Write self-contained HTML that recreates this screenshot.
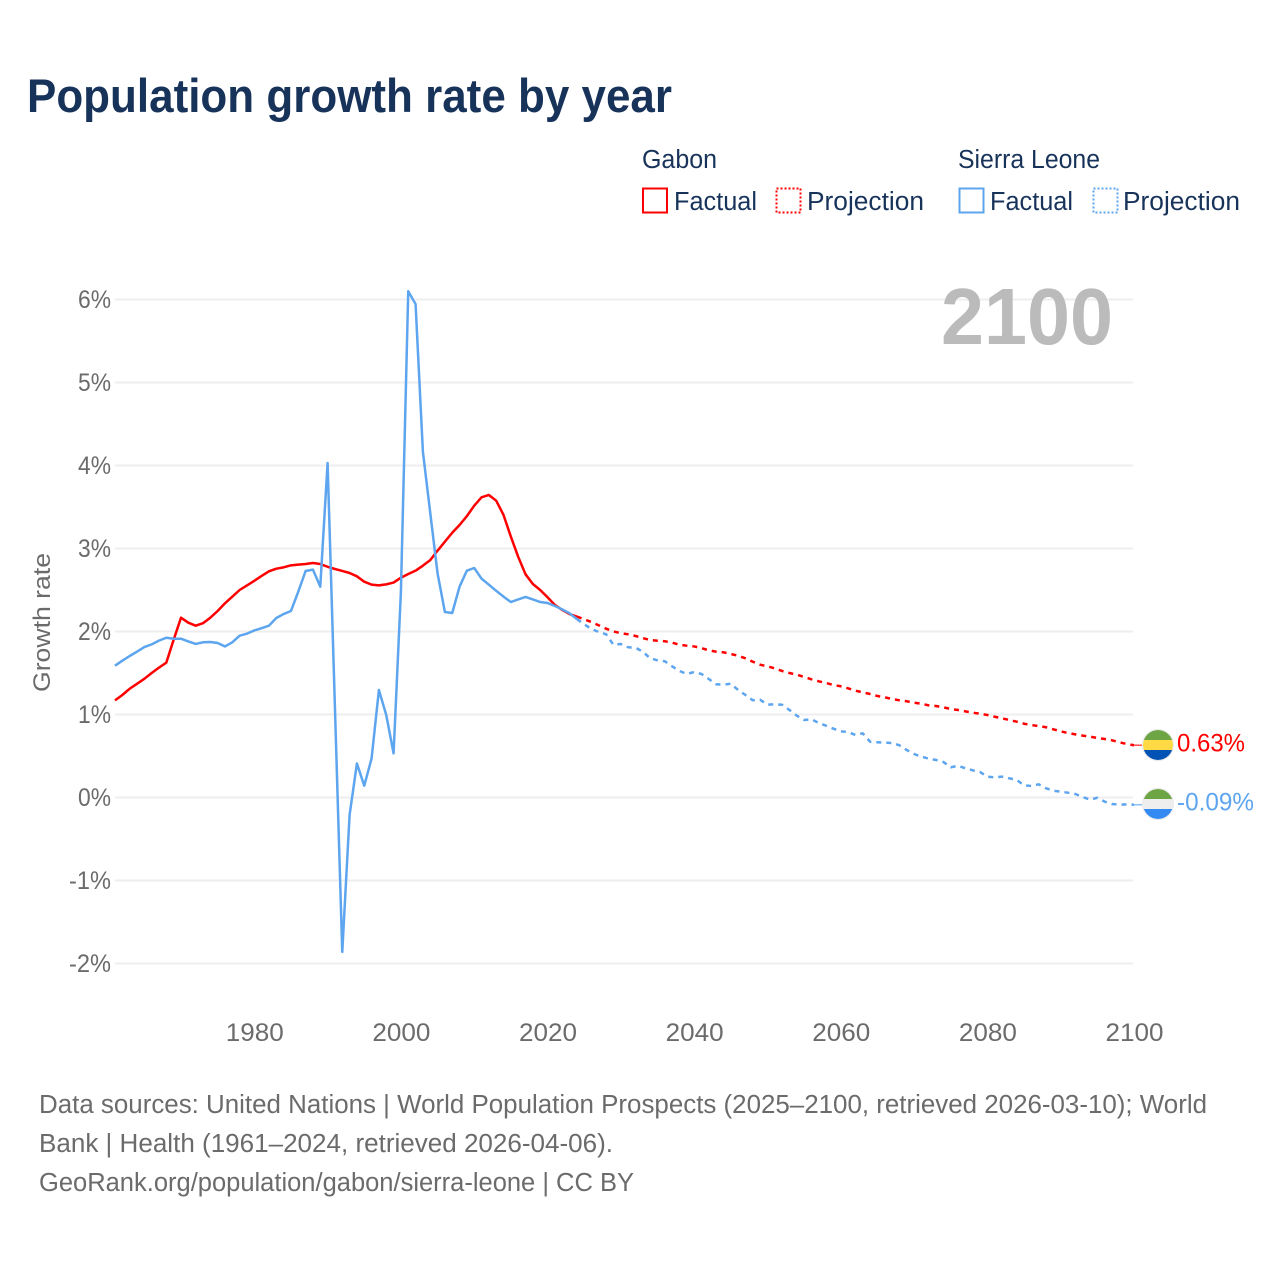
<!DOCTYPE html>
<html lang="en">
<head>
<meta charset="utf-8">
<title>Population growth rate by year</title>
<style>
html,body{margin:0;padding:0;background:#fff;width:1280px;height:1280px;overflow:hidden}
svg{display:block}
text{font-family:"Liberation Sans",sans-serif}
</style>
</head>
<body>
<svg id="chart" xmlns="http://www.w3.org/2000/svg" width="1280" height="1280" viewBox="0 0 1280 1280">
  <rect x="0" y="0" width="1280" height="1280" fill="#fff"/>
  <text x="27" y="112" font-size="47" font-weight="700" fill="#18335a" textLength="645" lengthAdjust="spacingAndGlyphs">Population growth rate by year</text>

  <g font-size="25.5" fill="#18335a">
    <text x="642" y="168" textLength="75" lengthAdjust="spacingAndGlyphs">Gabon</text>
    <text x="958" y="168" textLength="142" lengthAdjust="spacingAndGlyphs">Sierra Leone</text>
    <rect x="643" y="188.500" width="24" height="24" fill="none" stroke="#ff0000" stroke-width="2"/>
    <text x="674" y="210" textLength="83" lengthAdjust="spacingAndGlyphs">Factual</text>
    <rect x="776.500" y="188.500" width="24" height="24" fill="none" stroke="#ff0000" stroke-width="2" stroke-dasharray="2 2"/>
    <text x="807" y="210" textLength="117" lengthAdjust="spacingAndGlyphs">Projection</text>
    <rect x="959.500" y="188.500" width="24" height="24" fill="none" stroke="#5da5ee" stroke-width="2"/>
    <text x="990" y="210" textLength="83" lengthAdjust="spacingAndGlyphs">Factual</text>
    <rect x="1093.500" y="188.500" width="24" height="24" fill="none" stroke="#5da5ee" stroke-width="2" stroke-dasharray="2 2"/>
    <text x="1123" y="210" textLength="117" lengthAdjust="spacingAndGlyphs">Projection</text>
  </g>

  <g id="grid"></g>
  <g id="yticks"></g>
  <g id="xticks"></g>
  <text transform="translate(50 622.500) rotate(-90)" text-anchor="middle" font-size="24" fill="#6b6b6b" textLength="139" lengthAdjust="spacingAndGlyphs">Growth rate</text>
  <text x="941" y="344" font-size="80" font-weight="700" fill="#bbbbbb" textLength="172" lengthAdjust="spacingAndGlyphs">2100</text>

  <g id="series"></g>

  <g>
    <clipPath id="clip-ga"><circle cx="1158" cy="745" r="15"/></clipPath>
    <g clip-path="url(#clip-ga)">
      <rect x="1143" y="730" width="30" height="10" fill="#6da544"/>
      <rect x="1143" y="740" width="30" height="10" fill="#ffda44"/>
      <rect x="1143" y="750" width="30" height="10" fill="#0052b4"/>
    </g>
    <circle cx="1158" cy="745" r="15.500" fill="none" stroke="#e8e8e8" stroke-width="1"/>
    <text id="label-ga" x="1177" y="751.500" font-size="25" fill="#ff0000" textLength="68" lengthAdjust="spacingAndGlyphs"></text>
  </g>
  <g>
    <clipPath id="clip-sl"><circle cx="1158" cy="804" r="15"/></clipPath>
    <g clip-path="url(#clip-sl)">
      <rect x="1143" y="789" width="30" height="10" fill="#6da544"/>
      <rect x="1143" y="799" width="30" height="10" fill="#eeeeee"/>
      <rect x="1143" y="809" width="30" height="10" fill="#338af3"/>
    </g>
    <circle cx="1158" cy="804" r="15.500" fill="none" stroke="#e8e8e8" stroke-width="1"/>
    <text id="label-sl" x="1177" y="810.500" font-size="25" fill="#5da5ee" textLength="77" lengthAdjust="spacingAndGlyphs"></text>
  </g>

  <g font-size="25.500" fill="#6b6b6b">
    <text x="39" y="1113" textLength="1168" lengthAdjust="spacingAndGlyphs">Data sources: United Nations | World Population Prospects (2025–2100, retrieved 2026-03-10); World</text>
    <text x="39" y="1152" textLength="574" lengthAdjust="spacingAndGlyphs">Bank | Health (1961–2024, retrieved 2026-04-06).</text>
    <text x="39" y="1191" textLength="595" lengthAdjust="spacingAndGlyphs">GeoRank.org/population/gabon/sierra-leone | CC BY</text>
  </g>
</svg>
<script>
const xTickYears = [1980, 2000, 2020, 2040, 2060, 2080, 2100];
const yTickValues = [6, 5, 4, 3, 2, 1, 0, -1, -2];
const firstFactualYear = 1961;
const firstProjectionYear = 2024;
const gabonEndLabel = "0.63%";
const sierraLeoneEndLabel = "-0.09%";

const gabonFactual = [1.17,1.235,1.31,1.37,1.43,1.50,1.565,1.625,1.90,2.166,2.106,2.07,2.10,2.166,2.247,2.34,2.42,2.50,2.555,2.61,2.67,2.725,2.757,2.773,2.797,2.805,2.813,2.825,2.813,2.78,2.753,2.73,2.705,2.665,2.60,2.565,2.556,2.568,2.59,2.648,2.693,2.733,2.793,2.86,2.974,3.082,3.19,3.283,3.39,3.516,3.617,3.645,3.576,3.404,3.142,2.90,2.689,2.572,2.50,2.412,2.32,2.26,2.21,2.18];

const gabonProjection = [2.18,2.147,2.114,2.074,2.034,2.00,1.98,1.966,1.946,1.92,1.897,1.889,1.882,1.866,1.84,1.829,1.82,1.80,1.773,1.757,1.749,1.729,1.708,1.677,1.636,1.60,1.58,1.556,1.524,1.50,1.48,1.452,1.424,1.40,1.38,1.355,1.34,1.316,1.287,1.267,1.247,1.223,1.207,1.187,1.171,1.159,1.142,1.13,1.11,1.102,1.087,1.066,1.054,1.038,1.022,1.01,0.994,0.973,0.954,0.934,0.913,0.889,0.873,0.861,0.846,0.822,0.797,0.777,0.761,0.745,0.733,0.717,0.705,0.689,0.665,0.645,0.63];

const sierraFactual = [1.588,1.648,1.705,1.757,1.813,1.845,1.89,1.925,1.913,1.913,1.88,1.85,1.87,1.873,1.861,1.82,1.87,1.95,1.974,2.013,2.04,2.07,2.163,2.21,2.247,2.48,2.729,2.745,2.54,4.03,1.085,-1.86,-0.21,0.41,0.142,0.47,1.295,0.994,0.532,2.48,6.10,5.945,4.166,3.43,2.70,2.235,2.223,2.54,2.733,2.765,2.636,2.564,2.49,2.42,2.355,2.387,2.416,2.387,2.355,2.343,2.307,2.267,2.22,2.15];

const sierraProjection = [2.15,2.087,2.03,1.994,1.966,1.84,1.849,1.81,1.805,1.757,1.677,1.653,1.641,1.58,1.524,1.488,1.512,1.488,1.428,1.364,1.359,1.371,1.295,1.235,1.171,1.178,1.118,1.123,1.118,1.054,0.986,0.934,0.942,0.898,0.865,0.829,0.797,0.789,0.753,0.773,0.672,0.665,0.66,0.657,0.629,0.572,0.524,0.492,0.468,0.452,0.428,0.364,0.383,0.352,0.328,0.307,0.251,0.243,0.251,0.231,0.211,0.147,0.139,0.159,0.111,0.082,0.07,0.058,0.042,0.006,-0.027,-0.003,-0.05,-0.078,-0.087,-0.082,-0.087];

const NS = "http://www.w3.org/2000/svg";
const xScale = y => 115 + (y - 1961) * (1134 - 115) / (2100 - 1961);
const yScale = v => 797.5 - v * 83;

function linePoints(values, startYear) {
  return values.map((v, i) => xScale(startYear + i).toFixed(2) + "," + yScale(v).toFixed(2)).join(" ");
}

const grid = document.getElementById("grid");
const yticks = document.getElementById("yticks");
const xticks = document.getElementById("xticks");
const series = document.getElementById("series");

yTickValues.forEach(v => {
  const line = document.createElementNS(NS, "line");
  
  
  line.setAttribute("x1", 115);
  line.setAttribute("x2", 1133);
  line.setAttribute("y1", yScale(v));
  line.setAttribute("y2", yScale(v));
  line.setAttribute("stroke", "#eeeeee");
  line.setAttribute("stroke-width", 2);
  grid.appendChild(line);

  const label = document.createElementNS(NS, "text");
  
  
  label.setAttribute("x", 111);
  label.setAttribute("y", yScale(v) + 8.5);
  label.setAttribute("text-anchor", "end");
  label.setAttribute("font-size", 25);
  label.setAttribute("fill", "#6b6b6b");
  label.setAttribute("textLength", v < 0 ? 42 : 33);
  label.setAttribute("lengthAdjust", "spacingAndGlyphs");
  label.textContent = v + "%";
  yticks.appendChild(label);
});

xTickYears.forEach(y => {
  const label = document.createElementNS(NS, "text");
  
  
  label.setAttribute("x", xScale(y) + 0.5);
  label.setAttribute("y", 1041);
  label.setAttribute("text-anchor", "middle");
  label.setAttribute("font-size", 25);
  label.setAttribute("fill", "#6b6b6b");
  label.setAttribute("textLength", 58);
  label.setAttribute("lengthAdjust", "spacingAndGlyphs");
  label.textContent = y;
  xticks.appendChild(label);
});

function addLine(el, values, startYear, color, dashed) {
  el.setAttribute("points", linePoints(values, startYear));
  el.setAttribute("fill", "none");
  el.setAttribute("stroke", color);
  el.setAttribute("stroke-width", 2.5);
  el.setAttribute("stroke-linejoin", "round");
  if (dashed) el.setAttribute("stroke-dasharray", "5 5");
  series.appendChild(el);
}

const gabonFactualLine = document.createElementNS(NS, "polyline");


addLine(gabonFactualLine, gabonFactual, firstFactualYear, "#ff0000", false);

const gabonProjectionLine = document.createElementNS(NS, "polyline");


addLine(gabonProjectionLine, gabonProjection, firstProjectionYear, "#ff0000", true);

const sierraFactualLine = document.createElementNS(NS, "polyline");


addLine(sierraFactualLine, sierraFactual, firstFactualYear, "#5da5ee", false);

const sierraProjectionLine = document.createElementNS(NS, "polyline");


addLine(sierraProjectionLine, sierraProjection, firstProjectionYear, "#5da5ee", true);

function addConnector(el, value, color) {
  el.setAttribute("x1", xScale(2100));
  el.setAttribute("x2", 1142);
  el.setAttribute("y1", yScale(value));
  el.setAttribute("y2", yScale(value));
  el.setAttribute("stroke", color);
  el.setAttribute("stroke-width", 1.5);
  el.setAttribute("opacity", 0.7);
  series.appendChild(el);
}

const gabonConnector = document.createElementNS(NS, "line");


addConnector(gabonConnector, gabonProjection[gabonProjection.length - 1], "#ff0000");

const sierraConnector = document.createElementNS(NS, "line");


addConnector(sierraConnector, sierraProjection[sierraProjection.length - 1], "#5da5ee");

document.getElementById("label-ga").textContent = gabonEndLabel;
document.getElementById("label-sl").textContent = sierraLeoneEndLabel;
</script>
</body>
</html>
